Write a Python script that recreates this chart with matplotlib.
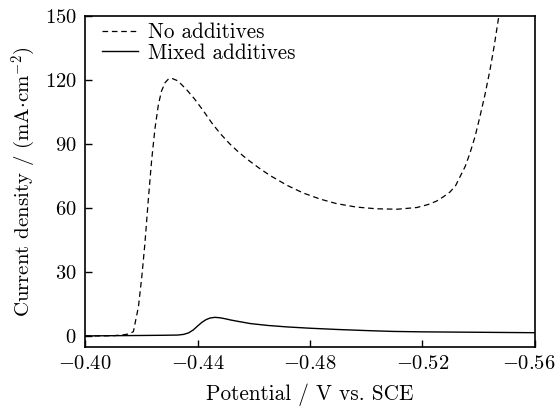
import matplotlib.pyplot as plt
import matplotlib.transforms as mtransforms
import numpy as np

plt.rcParams['font.family'] = 'serif'
plt.rcParams['font.serif'] = ['cmr10']
plt.rcParams['mathtext.fontset'] = 'cm'
plt.rcParams['axes.formatter.use_mathtext'] = True

pot_none = [-0.400, -0.405, -0.410, -0.413, -0.4155, -0.4172, -0.4190, -0.4202, -0.4213,
            -0.4225, -0.4237, -0.4249, -0.4261, -0.4272, -0.4285, -0.4297, -0.4308, -0.4330,
            -0.4361, -0.4390, -0.4421, -0.4450, -0.4480, -0.4515, -0.4545, -0.4580,
            -0.4620, -0.4658, -0.4720, -0.4776, -0.4835, -0.4895, -0.4965, -0.5037,
            -0.5110, -0.5180, -0.5220, -0.5250, -0.5275, -0.5298, -0.5318, -0.5333,
            -0.5352, -0.5369, -0.5387, -0.5404, -0.5422, -0.5440, -0.5455, -0.5468, -0.5475]
cur_none = [0.0, 0.0, 0.1, 0.4, 0.9, 2.0, 13.7, 27.8, 43.4,
            63.8, 82.5, 97.5, 108.5, 114.8, 118.8, 120.5, 120.8, 119.6,
            115.5, 111.0, 105.5, 100.0, 95.0, 90.0, 86.3, 82.5,
            78.6, 75.2, 70.5, 67.0, 64.2, 62.0, 60.4, 59.6,
            59.4, 60.2, 61.6, 63.2, 65.3, 67.5, 70.5, 74.5,
            79.5, 85.8, 93.5, 102.7, 113.0, 124.7, 136.0, 147.0, 153.0]

pot_mixed = [-0.400, -0.410, -0.420, -0.428, -0.4330, -0.4350, -0.4368, -0.4385, -0.4400,
             -0.4415, -0.4430, -0.4445, -0.4462, -0.4480, -0.4500, -0.4520, -0.4545,
             -0.4587, -0.4650, -0.4720, -0.4800, -0.4900, -0.5000, -0.5095, -0.5200,
             -0.5300, -0.5400, -0.5500, -0.5600]
cur_mixed = [0.0, 0.1, 0.2, 0.3, 0.4, 0.7, 1.4, 2.8, 4.6,
             6.3, 7.6, 8.4, 8.7, 8.5, 8.0, 7.4, 6.8,
             5.8, 4.9, 4.2, 3.6, 3.0, 2.5, 2.1, 1.9,
             1.8, 1.7, 1.6, 1.5]

fig = plt.figure(figsize=(5.56, 4.09), dpi=100)
ax = fig.add_axes([0.1529, 0.1516, 0.8093, 0.8093])

ax.plot(pot_none, cur_none, color='black', lw=0.9, ls=(0, (4.5, 3)), label='No additives')
ax.plot(pot_mixed, cur_mixed, color='black', lw=1.0, label='Mixed additives')

ax.set_xlim(-0.40, -0.56)
ax.set_ylim(-5.2, 150)
ax.set_xticks([-0.40, -0.44, -0.48, -0.52, -0.56])
ax.set_xticklabels(['$-0.40$', '$-0.44$', '$-0.48$', '$-0.52$', '$-0.56$'])
ax.set_yticks([0, 30, 60, 90, 120, 150])
ax.set_yticklabels(['$0$', '$30$', '$60$', '$90$', '$120$', '$150$'])
ax.tick_params(direction='in', length=5, width=1, labelsize=14.8, pad=6)

# keep the last x label inside the figure
last = ax.get_xticklabels()[-1]
last.set_transform(last.get_transform() + mtransforms.ScaledTranslation(-6 / 100, 0, fig.dpi_scale_trans))

for s in ax.spines.values():
    s.set_linewidth(1.2)

ax.set_xlabel('Potential / V vs. SCE', fontsize=15.3, labelpad=7)
ax.set_ylabel(r'Current density / (mA$\cdot$cm$^{-2}$)', fontsize=15, labelpad=5)

ax.legend(loc='upper left', bbox_to_anchor=(0.033, 0.986), frameon=False, fontsize=15.2,
          handlelength=1.7, borderaxespad=0, borderpad=0.1, labelspacing=0.05,
          handletextpad=0.47)

fig.savefig('out.png', dpi=100)
